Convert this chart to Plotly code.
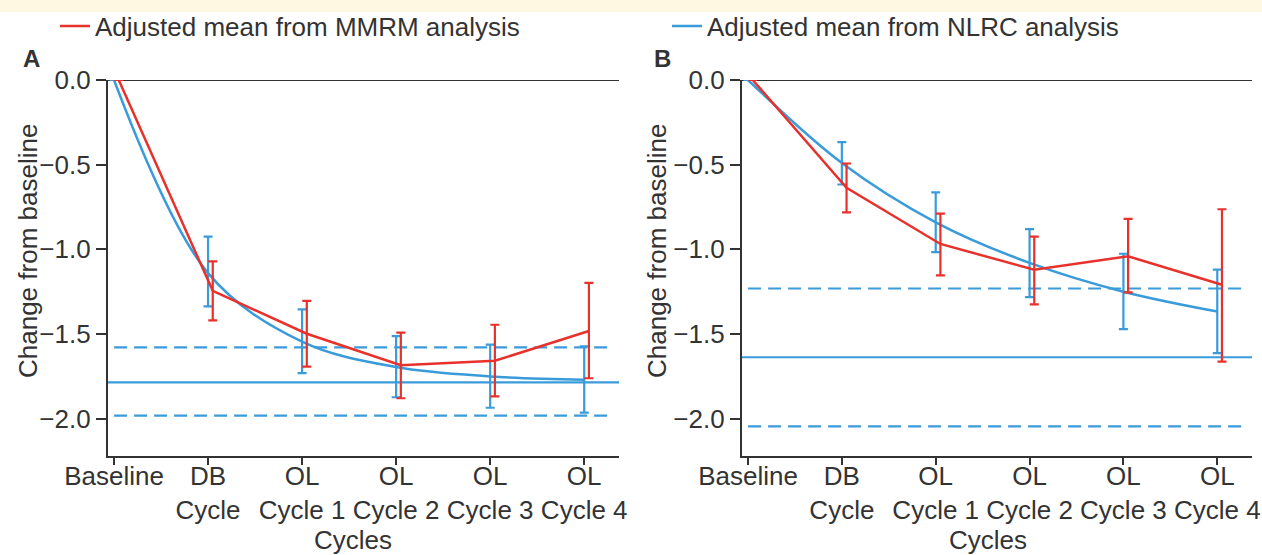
import plotly.graph_objects as go

# ---------------- data ----------------
categories = ["Baseline", "DB<br>Cycle", "OL<br>Cycle 1", "OL<br>Cycle 2", "OL<br>Cycle 3", "OL<br>Cycle 4"]
y_tickvals = [0.0, -0.5, -1.0, -1.5, -2.0]
y_ticktext = ["0.0", "\u22120.5", "\u22121.0", "\u22121.5", "\u22122.0"]

# Panel A
a_mmrm_mean = [0.0, -1.245, -1.498, -1.684, -1.658, -1.482]
a_mmrm_upper = [0.0, -1.071, -1.304, -1.492, -1.445, -1.198]
a_mmrm_lower = [0.0, -1.419, -1.692, -1.879, -1.868, -1.761]
a_nlrc_mean = [0.0, -1.14, -1.545, -1.695, -1.75, -1.77]
a_nlrc_upper = [0.0, -0.925, -1.354, -1.512, -1.563, -1.573]
a_nlrc_lower = [0.0, -1.336, -1.731, -1.873, -1.935, -1.964]
a_plateau = -1.785
a_plateau_ci = [-1.579, -1.982]

# Panel B
b_mmrm_mean = [0.0, -0.637, -0.968, -1.12, -1.041, -1.209]
b_mmrm_upper = [0.0, -0.493, -0.789, -0.925, -0.82, -0.763]
b_mmrm_lower = [0.0, -0.781, -1.154, -1.325, -1.254, -1.663]
b_nlrc_mean = [0.0, -0.49, -0.84, -1.08, -1.25, -1.367]
b_nlrc_upper = [0.0, -0.367, -0.663, -0.88, -1.026, -1.12]
b_nlrc_lower = [0.0, -0.617, -1.016, -1.282, -1.471, -1.613]
b_plateau = -1.637
b_plateau_ci = [-1.231, -2.045]

# ---------------- styling ----------------
W, H = 1262, 555
RED = "#E8312B"
BLUE = "#3A9BDB"
DARK = "#333333"
FONT = "Liberation Sans, Arial, sans-serif"
FS = 26
RED_SHIFT = 0.05


def err(mean, upper, lower):
    plus = [u - m for m, u in zip(mean, upper)]
    minus = [m - l for m, l in zip(mean, lower)]
    return plus, minus


fig = go.Figure()

panels = [
    dict(xa="x", ya="y", nl=(a_nlrc_mean, a_nlrc_upper, a_nlrc_lower),
         mm=(a_mmrm_mean, a_mmrm_upper, a_mmrm_lower), plateau=a_plateau, ci=a_plateau_ci),
    dict(xa="x2", ya="y2", nl=(b_nlrc_mean, b_nlrc_upper, b_nlrc_lower),
         mm=(b_mmrm_mean, b_mmrm_upper, b_mmrm_lower), plateau=b_plateau, ci=b_plateau_ci),
]

xs = list(range(len(categories)))
for i, p in enumerate(panels):
    xd = "x domain" if i == 0 else "x2 domain"
    fig.add_shape(type="line", xref=xd, yref=p["ya"], x0=0, x1=1, y0=0, y1=0,
                  line=dict(color=DARK, width=2.2), layer="below")
    fig.add_shape(type="line", xref=xd, yref=p["ya"], x0=0, x1=1, y0=p["plateau"], y1=p["plateau"],
                  line=dict(color=BLUE, width=2.2), layer="below")
    for c in p["ci"]:
        fig.add_shape(type="line", xref=xd, yref=p["ya"], x0=0.012, x1=0.99, y0=c, y1=c,
                      line=dict(color=BLUE, width=2.2, dash="13px,7px"), layer="below")

    nm, nu, nlw = p["nl"]
    plus, minus = err(nm, nu, nlw)
    fig.add_trace(go.Scatter(
        x=xs, y=nm, xaxis=p["xa"], yaxis=p["ya"], mode="lines",
        line=dict(color=BLUE, width=2.5, shape="spline", smoothing=1.0),
        name="Adjusted mean from NLRC analysis", legend="legend2",
        showlegend=(i == 1), cliponaxis=False,
    ))
    fig.add_trace(go.Scatter(
        x=xs, y=nm, xaxis=p["xa"], yaxis=p["ya"], mode="markers",
        marker=dict(size=1, color=BLUE, opacity=0),
        error_y=dict(type="data", symmetric=False, array=plus, arrayminus=minus,
                     color=BLUE, thickness=2.2, width=4.5),
        showlegend=False, hoverinfo="skip", cliponaxis=False,
    ))
    mm, mu, ml = p["mm"]
    plus, minus = err(mm, mu, ml)
    xr = [x + RED_SHIFT for x in xs]
    fig.add_trace(go.Scatter(
        x=xr, y=mm, xaxis=p["xa"], yaxis=p["ya"], mode="lines",
        line=dict(color=RED, width=2.5),
        name="Adjusted mean from MMRM analysis", legend="legend",
        showlegend=(i == 0), cliponaxis=False,
    ))
    fig.add_trace(go.Scatter(
        x=xr, y=mm, xaxis=p["xa"], yaxis=p["ya"], mode="markers",
        marker=dict(size=1, color=RED, opacity=0),
        error_y=dict(type="data", symmetric=False, array=plus, arrayminus=minus,
                     color=RED, thickness=2.2, width=4.5),
        showlegend=False, hoverinfo="skip", cliponaxis=False,
    ))

ydom = [(H - 456) / H, (H - 80) / H]
xrange_ = [-0.064, 5.37]
axis_common = dict(showline=True, linecolor=DARK, linewidth=2.2, ticks="outside",
                   tickcolor=DARK, tickwidth=2, showgrid=False, zeroline=False, automargin=False,
                   tickfont=dict(family=FONT, size=FS, color=DARK), fixedrange=True)

fig.update_layout(
    width=W, height=H, margin=dict(l=0, r=0, t=0, b=0, pad=0, autoexpand=False),
    paper_bgcolor="white", plot_bgcolor="white",
    font=dict(family=FONT, size=FS, color=DARK),
    xaxis=dict(domain=[108 / W, 619 / W], range=xrange_, tickvals=xs, ticktext=categories,
               ticklen=7, ticklabelstandoff=-11, anchor="y", **axis_common),
    yaxis=dict(domain=ydom, range=[-2.22, 0], tickvals=y_tickvals, ticktext=y_ticktext,
               ticklen=10, anchor="x", **axis_common),
    xaxis2=dict(domain=[742 / W, 1252 / W], range=xrange_, tickvals=xs, ticktext=categories,
                ticklen=7, ticklabelstandoff=-11, anchor="y2", **axis_common),
    yaxis2=dict(domain=ydom, range=[-2.22, 0], tickvals=y_tickvals, ticktext=y_ticktext,
                ticklen=10, anchor="x2", **axis_common),
    legend=dict(x=55 / W, y=1 - 26 / H, xanchor="left", yanchor="middle",
                font=dict(family=FONT, size=FS, color=DARK), bgcolor="rgba(0,0,0,0)"),
    legend2=dict(x=667 / W, y=1 - 26 / H, xanchor="left", yanchor="middle",
                 font=dict(family=FONT, size=FS, color=DARK), bgcolor="rgba(0,0,0,0)"),
    showlegend=True,
)

# top cream band
fig.add_shape(type="rect", xref="paper", yref="paper", x0=0, x1=1, y0=1 - 12 / H, y1=1,
              fillcolor="#FEF8E3", line=dict(width=0), layer="below")

ann = [
    dict(text="<b>A</b>", x=31, y=58, size=24),
    dict(text="<b>B</b>", x=663, y=58, size=24),
    dict(text="Cycles", x=353, y=540, size=FS),
    dict(text="Cycles", x=988, y=540, size=FS),
]
for a in ann:
    fig.add_annotation(text=a["text"], x=a["x"] / W, y=1 - a["y"] / H, xref="paper", yref="paper",
                       showarrow=False, xanchor="center", yanchor="middle",
                       font=dict(family=FONT, size=a["size"], color=DARK))
for xp in (28, 657):
    fig.add_annotation(text="Change from baseline", x=xp / W, y=1 - 251 / H, xref="paper", yref="paper",
                       showarrow=False, textangle=-90, xanchor="center", yanchor="middle",
                       font=dict(family=FONT, size=FS, color=DARK))

fig.write_html("out.html", config={"displayModeBar": False},
               post_script="document.body.style.margin='0px';")
